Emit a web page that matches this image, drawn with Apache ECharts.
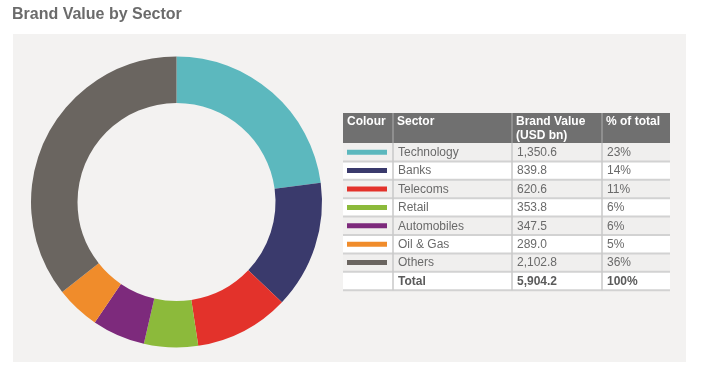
<!DOCTYPE html>
<html>
<head>
<meta charset="utf-8">
<script src="https://cdn.jsdelivr.net/npm/echarts@6/dist/echarts.min.js"></script>
<style>
html,body{margin:0;padding:0;background:#fff;}
#c{width:708px;height:388px;}
</style>
</head>
<body>
<div id="c"></div>
<script>
const title = 'Brand Value by Sector';
const sectors = ['Technology','Banks','Telecoms','Retail','Automobiles','Oil & Gas','Others'];
const values = [1350.6, 839.8, 620.6, 353.8, 347.5, 289.0, 2102.8];
const valueLabels = ['1,350.6','839.8','620.6','353.8','347.5','289.0','2,102.8'];
const pctLabels = ['23%','14%','11%','6%','6%','5%','36%'];
const colors = ['#5cb8be','#3a3a6c','#e3322b','#8cba3b','#7d2a7c','#f08c2b','#6a6560'];
const headers = ['Colour','Sector','Brand Value\n(USD bn)','% of total'];
const totalRow = ['', 'Total', '5,904.2', '100%'];

const chart = echarts.init(document.getElementById('c'), null, {renderer:'canvas'});
const FONT = '"Liberation Sans", Arial, Helvetica, sans-serif';

// table layout
const tx = 343, tRight = 670;
const colX = [343, 393, 512, 602];
const headTop = 113, headBot = 143;
const rowH = 18.4;
const textColor = '#6a6a6a';
const g = [];
g.push({type:'rect', shape:{x:13,y:34,width:673,height:328}, style:{fill:'#f3f2f1'}, z:-10, silent:true});
g.push({type:'text', left:12, top:7, style:{text:title, fill:'#6b6b6b', font:'bold 16px '+FONT}, silent:true});
// header
g.push({type:'rect', shape:{x:tx,y:headTop,width:tRight-tx,height:headBot-headTop}, style:{fill:'#707070'}, silent:true});
for (let c=1;c<4;c++) g.push({type:'line', shape:{x1:colX[c],y1:headTop,x2:colX[c],y2:headBot}, style:{stroke:'#9a9a9a',lineWidth:1.5}, silent:true});
headers.forEach((h,i)=>{
  g.push({type:'text', x:colX[i]+4, y:headTop+2, style:{text:h, fill:'#ffffff', font:'bold 12px '+FONT, lineHeight:14, verticalAlign:'top'}, silent:true});
});
// body rows
const rows = sectors.map((s,i)=>({sw:colors[i], cells:['',s,valueLabels[i],pctLabels[i]], bold:false}));
rows.push({sw:null, cells:totalRow, bold:true});
rows.forEach((r,i)=>{
  const y0 = headBot + i*rowH;
  const bg = (i%2===0) ? '#f0efee' : '#ffffff';
  g.push({type:'rect', shape:{x:tx,y:y0,width:tRight-tx,height:rowH}, style:{fill:bg}, silent:true});
  if (r.sw) g.push({type:'rect', shape:{x:347,y:y0+rowH/2-2.5,width:40,height:5}, style:{fill:r.sw}, silent:true});
  for (let c=1;c<4;c++) {
    g.push({type:'text', x:colX[c]+5, y:y0+rowH/2+0.5, style:{text:r.cells[c], fill: r.bold ? '#5a5a5a' : textColor, font:(r.bold?'bold ':'')+'12px '+FONT, verticalAlign:'middle'}, silent:true});
  }
});
// separators
for (let i=1;i<=rows.length;i++) {
  const y = headBot + i*rowH;
  g.push({type:'line', shape:{x1:tx,y1:y,x2:tRight,y2:y}, style:{stroke:'#d2d2d2',lineWidth:2}, z:5, silent:true});
}
for (let c=1;c<4;c++) g.push({type:'line', shape:{x1:colX[c],y1:headBot,x2:colX[c],y2:headBot+rows.length*rowH}, style:{stroke:'#c8c8c8',lineWidth:1.5}, z:5, silent:true});

chart.setOption({
  backgroundColor:'#ffffff',
  animation:false,
  graphic: g,
  series:[{
    type:'pie',
    center:[176.5, 202],
    radius:[99, 145.5],
    startAngle:90,
    clockwise:true,
    silent:true,
    z:10,
    label:{show:false},
    labelLine:{show:false},
    itemStyle:{borderWidth:0},
    emphasis:{disabled:true},
    data: sectors.map((s,i)=>({name:s, value:values[i], itemStyle:{color:colors[i]}}))
  }]
});
</script>
</body>
</html>
